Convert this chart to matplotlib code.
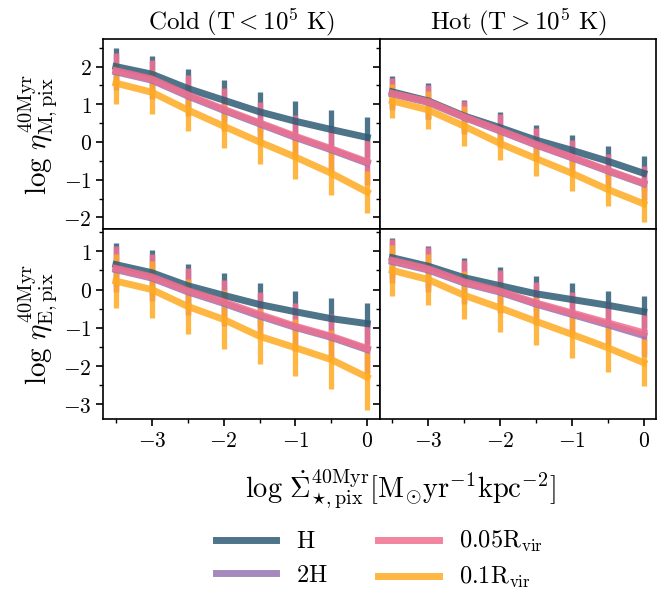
import numpy as np
import matplotlib
matplotlib.use("Agg")
import matplotlib.pyplot as plt
from matplotlib.lines import Line2D
from matplotlib.ticker import MultipleLocator, FuncFormatter

plt.rcParams['mathtext.fontset'] = 'cm'
plt.rcParams['font.family'] = ['serif']
plt.rcParams['font.serif'] = ['DejaVu Serif']

# log SFR surface density bins
sfr_bins = [-3.5, -3.0, -2.5, -2.0, -1.5, -1.0, -0.5, 0.0]

legend_labels = [r'$\mathrm{H}$', r'$\mathrm{2H}$', r'$\mathrm{0.05R_{vir}}$', r'$\mathrm{0.1R_{vir}}$']
colors = ['#2e5c75', '#9575b3', '#ef6f8e', '#ffab22']

# mass loading, cold phase
cold_M_H = [2.00, 1.80, 1.42, 1.11, 0.80, 0.55, 0.33, 0.12]
cold_M_2H = [1.86, 1.64, 1.22, 0.84, 0.48, 0.12, -0.21, -0.56]
cold_M_005 = [1.89, 1.67, 1.25, 0.87, 0.51, 0.15, -0.18, -0.53]
cold_M_01 = [1.56, 1.32, 0.85, 0.42, 0.00, -0.40, -0.83, -1.33]
cold_M_H_err = [0.49, 0.49, 0.51, 0.54, 0.53, 0.54, 0.53, 0.53]
cold_M_2H_err = [0.47, 0.51, 0.53, 0.55, 0.56, 0.56, 0.57, 0.58]
cold_M_005_err = [0.47, 0.51, 0.53, 0.55, 0.56, 0.56, 0.57, 0.58]
cold_M_01_err = [0.54, 0.58, 0.56, 0.58, 0.59, 0.59, 0.57, 0.56]

# mass loading, hot phase
hot_M_H = [1.33, 1.09, 0.69, 0.38, 0.05, -0.22, -0.51, -0.83]
hot_M_2H = [1.27, 1.05, 0.65, 0.29, -0.08, -0.42, -0.77, -1.11]
hot_M_005 = [1.29, 1.07, 0.67, 0.31, -0.06, -0.40, -0.75, -1.09]
hot_M_01 = [1.09, 0.85, 0.42, -0.04, -0.44, -0.83, -1.26, -1.64]
hot_M_H_err = [0.42, 0.47, 0.42, 0.42, 0.41, 0.40, 0.41, 0.46]
hot_M_2H_err = [0.42, 0.45, 0.43, 0.43, 0.43, 0.44, 0.44, 0.44]
hot_M_005_err = [0.42, 0.45, 0.43, 0.43, 0.43, 0.44, 0.44, 0.44]
hot_M_01_err = [0.45, 0.50, 0.53, 0.45, 0.45, 0.46, 0.43, 0.48]

# energy loading, cold phase
cold_E_H = [0.65, 0.44, 0.10, -0.15, -0.39, -0.58, -0.76, -0.89]
cold_E_2H = [0.52, 0.30, -0.06, -0.36, -0.69, -0.99, -1.25, -1.57]
cold_E_005 = [0.55, 0.33, -0.03, -0.32, -0.65, -0.96, -1.22, -1.54]
cold_E_01 = [0.22, 0.00, -0.44, -0.78, -1.22, -1.52, -1.83, -2.29]
cold_E_H_err = [0.57, 0.59, 0.57, 0.58, 0.56, 0.54, 0.55, 0.53]
cold_E_2H_err = [0.58, 0.60, 0.60, 0.58, 0.58, 0.61, 0.59, 0.63]
cold_E_005_err = [0.58, 0.60, 0.60, 0.58, 0.58, 0.61, 0.59, 0.63]
cold_E_01_err = [0.70, 0.74, 0.72, 0.76, 0.72, 0.74, 0.77, 0.85]

# energy loading, hot phase
hot_E_H = [0.83, 0.61, 0.31, 0.10, -0.11, -0.26, -0.41, -0.58]
hot_E_2H = [0.73, 0.51, 0.17, -0.07, -0.38, -0.65, -0.92, -1.20]
hot_E_005 = [0.76, 0.54, 0.20, -0.04, -0.35, -0.61, -0.87, -1.13]
hot_E_01 = [0.50, 0.26, -0.15, -0.48, -0.83, -1.17, -1.52, -1.91]
hot_E_H_err = [0.52, 0.54, 0.52, 0.48, 0.46, 0.42, 0.38, 0.42]
hot_E_2H_err = [0.57, 0.57, 0.56, 0.55, 0.55, 0.55, 0.55, 0.55]
hot_E_005_err = [0.57, 0.57, 0.56, 0.55, 0.55, 0.55, 0.55, 0.55]
hot_E_01_err = [0.66, 0.67, 0.63, 0.62, 0.61, 0.61, 0.63, 0.61]

panels = [
    [(cold_M_H, cold_M_H_err), (cold_M_2H, cold_M_2H_err), (cold_M_005, cold_M_005_err), (cold_M_01, cold_M_01_err)],
    [(hot_M_H, hot_M_H_err), (hot_M_2H, hot_M_2H_err), (hot_M_005, hot_M_005_err), (hot_M_01, hot_M_01_err)],
    [(cold_E_H, cold_E_H_err), (cold_E_2H, cold_E_2H_err), (cold_E_005, cold_E_005_err), (cold_E_01, cold_E_01_err)],
    [(hot_E_H, hot_E_H_err), (hot_E_2H, hot_E_2H_err), (hot_E_005, hot_E_005_err), (hot_E_01, hot_E_01_err)],
]

fig, axes = plt.subplots(2, 2, figsize=(6.71, 5.98), dpi=100, sharex=True, sharey='row')
fig.subplots_adjust(left=0.154, right=0.978, top=0.934, bottom=0.300, wspace=0, hspace=0)

fmt = FuncFormatter(lambda v, p: r'$%d$' % round(v))

for i, ax in enumerate(axes.flat):
    for j, (vals, errs) in enumerate(panels[i]):
        ax.errorbar(sfr_bins, vals, yerr=errs, color=colors[j], lw=5, elinewidth=3.8,
                    capsize=0, alpha=0.85)
    ax.xaxis.set_major_locator(MultipleLocator(1))
    ax.xaxis.set_minor_locator(MultipleLocator(0.5))
    ax.yaxis.set_major_locator(MultipleLocator(1))
    ax.yaxis.set_minor_locator(MultipleLocator(0.5))
    ax.xaxis.set_major_formatter(fmt)
    ax.yaxis.set_major_formatter(fmt)
    ax.tick_params(which='major', direction='out', length=5, width=1.2, labelsize=15.5)
    ax.tick_params(which='minor', direction='out', length=3, width=1.0)
    for s in ax.spines.values():
        s.set_linewidth(1.2)

for ax in axes[0]:
    ax.tick_params(axis='x', which='both', bottom=False)
axes[0, 0].set_ylim(-2.31, 2.72)
axes[1, 0].set_ylim(-3.37, 1.58)
axes[0, 0].set_xlim(-3.675, 0.175)

axes[0, 0].set_title(r'$\mathrm{Cold\ (T < 10^5\ K)}$', fontsize=18, pad=7)
axes[0, 1].set_title(r'$\mathrm{Hot\ (T > 10^5\ K)}$', fontsize=18, pad=7)
axes[0, 0].set_ylabel(r'$\log\,\eta^{\rm 40Myr}_{\rm M,pix}$', fontsize=21, labelpad=2)
axes[1, 0].set_ylabel(r'$\log\,\eta^{\rm 40Myr}_{\rm E,pix}$', fontsize=21, labelpad=2)

fig.text(0.596, 0.182, r'$\log\,\dot{\Sigma}^{\rm 40Myr}_{\star,{\rm pix}}[{\rm M_{\odot}yr^{-1}kpc^{-2}}]$',
         fontsize=20.5, ha='center', va='center')

handles = [Line2D([], [], color=c, lw=5, alpha=0.85) for c in colors]
leg = fig.legend(handles, legend_labels, loc='center', bbox_to_anchor=(0.565, 0.064), ncol=2,
                 frameon=False, fontsize=17.5, handlelength=2.5, columnspacing=2.1,
                 handletextpad=0.8, labelspacing=0.45)

fig.savefig('out.png', dpi=100)
